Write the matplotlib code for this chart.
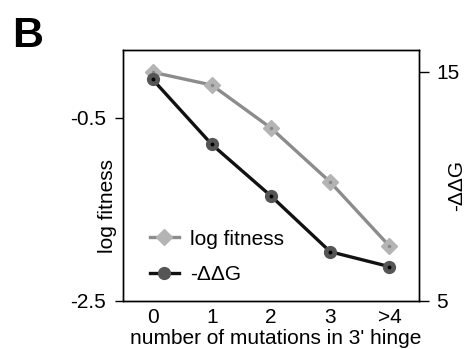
import numpy as np
import matplotlib.pyplot as plt

plt.rcParams['font.family'] = ['Liberation Sans', 'DejaVu Sans']

categories = ['0', '1', '2', '3', '>4']
log_fitness = [0.0, -0.14, -0.61, -1.20, -1.90]
neg_ddg = [14.67, 11.83, 9.58, 7.15, 6.50]

x = np.arange(len(categories))

fig = plt.figure(figsize=(4.69, 3.49), dpi=100)
ax = fig.add_axes([123 / 469, 1 - 301 / 349, (419 - 123) / 469, (301 - 50) / 349])
ax2 = ax.twinx()

l1, = ax.plot(x, log_fitness, color='#8c8c8c', lw=2.4, marker='D', ms=8.5,
              mfc='#b4b4b4', mec='#b4b4b4', zorder=3)
ax.plot(x, log_fitness, ls='none', marker='o', ms=1.5, color='#888888', zorder=4)
l2, = ax2.plot(x, neg_ddg, color='#111111', lw=2.4, marker='o', ms=8.5,
               mfc='#555555', mec='#555555', zorder=3)
ax2.plot(x, neg_ddg, ls='none', marker='o', ms=1.8, color='#000000', zorder=4)

ax.set_xlim(-0.5, 4.5)
ax.set_ylim(-2.5, 0.243)
ax2.set_ylim(5, 15.95)
ax.set_yticks([-0.5, -2.5])
ax.set_yticklabels(['-0.5', '-2.5'])
ax2.set_yticks([15, 5])
ax.set_xticks(x)
ax.set_xticklabels(categories)

fs = 15
ax.tick_params(axis='x', length=0, labelsize=fs, pad=5)
ax.tick_params(axis='y', length=6, width=1, labelsize=fs, pad=6)
ax2.tick_params(axis='y', length=7, width=1, labelsize=fs, pad=5.5)

for a in (ax, ax2):
    for s in a.spines.values():
        s.set_linewidth(1)

ax.set_xlabel("number of mutations in 3' hinge", fontsize=fs)
ax.xaxis.set_label_coords(0.515, -0.112)
ax.set_ylabel('log fitness', fontsize=fs)
ax.yaxis.set_label_coords(-0.021, 0.38)
ax2.set_ylabel('-ΔΔG', fontsize=fs)
ax2.yaxis.set_label_coords(1.095, 0.46)

ax.legend([l1, l2], ['log fitness', '-ΔΔG'], loc='lower left',
          bbox_to_anchor=(0.027, -0.008), frameon=False, fontsize=fs,
          handlelength=1.4, handletextpad=0.55, labelspacing=0.8)

fig.text(12 / 469, 1 - 47 / 349, 'B', fontsize=31, fontweight='bold')

fig.savefig('out.png', dpi=100)
